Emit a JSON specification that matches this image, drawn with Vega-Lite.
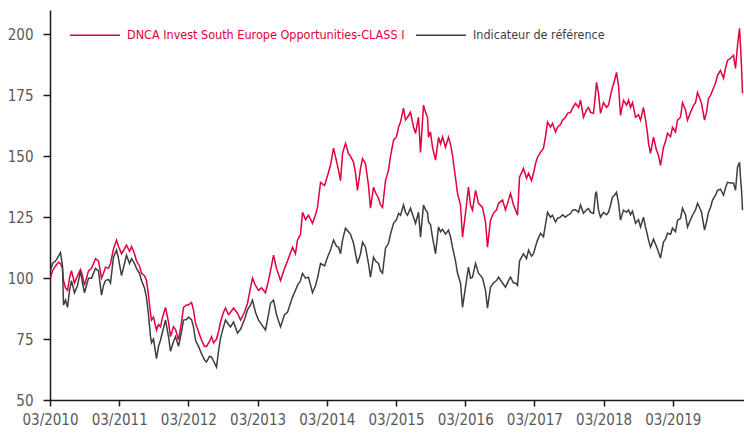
{
"$schema": "https://vega.github.io/schema/vega-lite/v6.json",
"width": 694, "height": 390,
"autosize": {"type": "none"},
"padding": {"left": 50, "top": 10, "right": 0, "bottom": 34},
"background": "white",
"config": {"view": {"stroke": null}, "font": "DejaVu Sans Condensed, sans-serif",
 "axis": {"grid": false, "title": null, "domainColor": "#1a1a1a", "domainWidth": 1.5, "tickColor": "#1a1a1a", "tickWidth": 1.5, "tickSize": 7, "labelColor": "#58595b", "labelFontSize": 15, "labelFont": "DejaVu Sans Condensed, sans-serif"}},
"data": {"values": [
{"t":2010.174,"fund":100,"ref":103},{"t":2010.203,"fund":103,"ref":106},{"t":2010.246,"fund":105,"ref":107},{"t":2010.290,"fund":106.5,"ref":109},{"t":2010.318,"fund":106,"ref":110.5},{"t":2010.347,"fund":104,"ref":105},{"t":2010.362,"fund":99,"ref":89},{"t":2010.391,"fund":96,"ref":91},{"t":2010.420,"fund":95,"ref":88},{"t":2010.449,"fund":100,"ref":95},{"t":2010.477,"fund":103,"ref":99},{"t":2010.521,"fund":98,"ref":94},{"t":2010.564,"fund":101,"ref":97},{"t":2010.607,"fund":103.5,"ref":103},{"t":2010.636,"fund":101,"ref":98},{"t":2010.665,"fund":97,"ref":94},{"t":2010.694,"fund":100,"ref":97},{"t":2010.723,"fund":103,"ref":100},{"t":2010.766,"fund":104,"ref":100},{"t":2010.824,"fund":108,"ref":104},{"t":2010.868,"fund":107,"ref":103},{"t":2010.911,"fund":100,"ref":93},{"t":2010.940,"fund":102,"ref":97},{"t":2010.969,"fund":104.5,"ref":99},{"t":2011.012,"fund":104,"ref":99.5},{"t":2011.041,"fund":106,"ref":98},{"t":2011.084,"fund":112,"ref":108.6},{"t":2011.128,"fund":115.6,"ref":111.5},{"t":2011.157,"fund":113,"ref":108},{"t":2011.200,"fund":110,"ref":101},{"t":2011.243,"fund":112,"ref":106},{"t":2011.272,"fund":113.5,"ref":109.4},{"t":2011.316,"fund":111,"ref":106},{"t":2011.345,"fund":113,"ref":108},{"t":2011.388,"fund":110,"ref":106},{"t":2011.417,"fund":107,"ref":104},{"t":2011.460,"fund":105,"ref":102},{"t":2011.489,"fund":102,"ref":99},{"t":2011.532,"fund":101,"ref":96},{"t":2011.561,"fund":99,"ref":92},{"t":2011.590,"fund":93,"ref":85},{"t":2011.619,"fund":85.6,"ref":76},{"t":2011.634,"fund":82.8,"ref":73.5},{"t":2011.662,"fund":84,"ref":75},{"t":2011.706,"fund":78.6,"ref":67},{"t":2011.735,"fund":81,"ref":72},{"t":2011.764,"fund":80,"ref":74.6},{"t":2011.793,"fund":84,"ref":78},{"t":2011.836,"fund":88,"ref":82.8},{"t":2011.879,"fund":82,"ref":76},{"t":2011.908,"fund":76,"ref":70},{"t":2011.951,"fund":80,"ref":74},{"t":2011.980,"fund":79,"ref":76},{"t":2012.024,"fund":74.6,"ref":72},{"t":2012.067,"fund":82,"ref":78},{"t":2012.096,"fund":88,"ref":82.8},{"t":2012.139,"fund":89,"ref":83},{"t":2012.168,"fund":89,"ref":84},{"t":2012.212,"fund":90,"ref":83},{"t":2012.240,"fund":87,"ref":80},{"t":2012.269,"fund":81.6,"ref":74.6},{"t":2012.313,"fund":78,"ref":72},{"t":2012.356,"fund":74.6,"ref":69},{"t":2012.399,"fund":72,"ref":66.5},{"t":2012.428,"fund":72,"ref":65.6},{"t":2012.472,"fund":74,"ref":68},{"t":2012.501,"fund":76,"ref":67.6},{"t":2012.530,"fund":73.4,"ref":66},{"t":2012.573,"fund":75,"ref":63.5},{"t":2012.602,"fund":78,"ref":70},{"t":2012.631,"fund":82,"ref":75.4},{"t":2012.674,"fund":86,"ref":80},{"t":2012.703,"fund":87.7,"ref":82.8},{"t":2012.746,"fund":85,"ref":81},{"t":2012.775,"fund":86,"ref":80},{"t":2012.819,"fund":87.7,"ref":82},{"t":2012.876,"fund":85.6,"ref":77.5},{"t":2012.920,"fund":82.8,"ref":79},{"t":2012.977,"fund":86,"ref":83},{"t":2013.021,"fund":89.7,"ref":87},{"t":2013.064,"fund":96,"ref":89},{"t":2013.093,"fund":100,"ref":91},{"t":2013.136,"fund":97,"ref":86},{"t":2013.180,"fund":95,"ref":82.8},{"t":2013.223,"fund":96,"ref":81},{"t":2013.281,"fund":94,"ref":78.7},{"t":2013.324,"fund":99,"ref":85},{"t":2013.353,"fund":103,"ref":89.7},{"t":2013.397,"fund":109.4,"ref":91},{"t":2013.440,"fund":104,"ref":85},{"t":2013.498,"fund":99,"ref":80},{"t":2013.556,"fund":104,"ref":85},{"t":2013.599,"fund":107,"ref":86},{"t":2013.671,"fund":112.7,"ref":92.2},{"t":2013.714,"fund":110,"ref":95},{"t":2013.743,"fund":115.6,"ref":97},{"t":2013.787,"fund":118,"ref":99},{"t":2013.816,"fund":127,"ref":102},{"t":2013.859,"fund":124,"ref":100},{"t":2013.902,"fund":125.8,"ref":100.4},{"t":2013.960,"fund":122.5,"ref":94},{"t":2014.004,"fund":126,"ref":97},{"t":2014.032,"fund":129,"ref":100},{"t":2014.076,"fund":139.3,"ref":106},{"t":2014.134,"fund":138,"ref":105},{"t":2014.177,"fund":142,"ref":108.6},{"t":2014.220,"fund":146.3,"ref":111.5},{"t":2014.264,"fund":153.3,"ref":115.6},{"t":2014.307,"fund":148,"ref":113},{"t":2014.336,"fund":144.3,"ref":112.7},{"t":2014.365,"fund":140,"ref":110},{"t":2014.394,"fund":151.2,"ref":115.6},{"t":2014.437,"fund":155.3,"ref":120.5},{"t":2014.480,"fund":151,"ref":119},{"t":2014.509,"fund":150,"ref":118},{"t":2014.553,"fund":147.5,"ref":114.3},{"t":2014.582,"fund":143,"ref":110},{"t":2014.610,"fund":136,"ref":106},{"t":2014.654,"fund":145,"ref":110},{"t":2014.683,"fund":149,"ref":114.8},{"t":2014.726,"fund":147,"ref":112.7},{"t":2014.769,"fund":138,"ref":106},{"t":2014.798,"fund":128.7,"ref":100.4},{"t":2014.842,"fund":137.3,"ref":108.6},{"t":2014.871,"fund":135,"ref":107},{"t":2014.914,"fund":132.8,"ref":106},{"t":2014.943,"fund":130,"ref":103},{"t":2014.972,"fund":129,"ref":102},{"t":2015.015,"fund":140,"ref":112.3},{"t":2015.058,"fund":144.3,"ref":114.3},{"t":2015.087,"fund":150,"ref":118},{"t":2015.131,"fund":156.6,"ref":122.5},{"t":2015.174,"fund":158,"ref":124},{"t":2015.203,"fund":161.9,"ref":126.6},{"t":2015.232,"fund":164,"ref":125.8},{"t":2015.275,"fund":169.7,"ref":130},{"t":2015.304,"fund":165,"ref":127},{"t":2015.333,"fund":166,"ref":125.8},{"t":2015.376,"fund":168,"ref":128.7},{"t":2015.420,"fund":162,"ref":125},{"t":2015.449,"fund":159.4,"ref":122.5},{"t":2015.492,"fund":166,"ref":127},{"t":2015.521,"fund":151.6,"ref":116.8},{"t":2015.564,"fund":170.9,"ref":130},{"t":2015.593,"fund":168,"ref":128},{"t":2015.622,"fund":166,"ref":127},{"t":2015.636,"fund":157.8,"ref":123},{"t":2015.665,"fund":160,"ref":122},{"t":2015.694,"fund":153.7,"ref":116.8},{"t":2015.738,"fund":148.4,"ref":110},{"t":2015.781,"fund":157.8,"ref":121},{"t":2015.810,"fund":155,"ref":119},{"t":2015.839,"fund":158,"ref":120},{"t":2015.882,"fund":153.7,"ref":118},{"t":2015.925,"fund":157.8,"ref":119.7},{"t":2015.954,"fund":155,"ref":117},{"t":2015.983,"fund":150.4,"ref":112.7},{"t":2016.027,"fund":141,"ref":107},{"t":2016.056,"fund":134.8,"ref":102},{"t":2016.099,"fund":130,"ref":98},{"t":2016.128,"fund":116.8,"ref":88},{"t":2016.171,"fund":126.6,"ref":96.3},{"t":2016.214,"fund":137.3,"ref":104.5},{"t":2016.243,"fund":130,"ref":100},{"t":2016.272,"fund":127.9,"ref":100.4},{"t":2016.316,"fund":136,"ref":106},{"t":2016.359,"fund":130.7,"ref":102},{"t":2016.417,"fund":129,"ref":100},{"t":2016.460,"fund":123,"ref":95},{"t":2016.489,"fund":112.7,"ref":87.7},{"t":2016.532,"fund":123.8,"ref":96.3},{"t":2016.576,"fund":126.6,"ref":98},{"t":2016.619,"fund":128,"ref":99},{"t":2016.648,"fund":130.7,"ref":100.4},{"t":2016.706,"fund":132,"ref":98},{"t":2016.749,"fund":128,"ref":96.3},{"t":2016.793,"fund":132,"ref":99},{"t":2016.821,"fund":134.8,"ref":100.4},{"t":2016.865,"fund":130,"ref":98},{"t":2016.894,"fund":128,"ref":98},{"t":2016.923,"fund":125.8,"ref":97},{"t":2016.952,"fund":141.4,"ref":107},{"t":2017.009,"fund":145,"ref":110},{"t":2017.053,"fund":141,"ref":108},{"t":2017.082,"fund":143,"ref":111.5},{"t":2017.125,"fund":140,"ref":109},{"t":2017.154,"fund":143,"ref":110},{"t":2017.183,"fund":147,"ref":113},{"t":2017.212,"fund":149.6,"ref":115.6},{"t":2017.255,"fund":151.6,"ref":118.4},{"t":2017.298,"fund":153.3,"ref":117},{"t":2017.327,"fund":158,"ref":122},{"t":2017.356,"fund":164,"ref":127},{"t":2017.400,"fund":162,"ref":125},{"t":2017.428,"fund":163.5,"ref":125.8},{"t":2017.472,"fund":160,"ref":123},{"t":2017.501,"fund":161.9,"ref":124.6},{"t":2017.544,"fund":163,"ref":125},{"t":2017.573,"fund":164.8,"ref":126},{"t":2017.616,"fund":166,"ref":125},{"t":2017.645,"fund":167.6,"ref":125.8},{"t":2017.689,"fund":168,"ref":126.5},{"t":2017.717,"fund":169.7,"ref":127.9},{"t":2017.761,"fund":171.7,"ref":128},{"t":2017.804,"fund":170,"ref":127},{"t":2017.833,"fund":173,"ref":130},{"t":2017.876,"fund":166,"ref":126.6},{"t":2017.920,"fund":169,"ref":128},{"t":2017.949,"fund":170,"ref":128.5},{"t":2017.978,"fund":168,"ref":127},{"t":2018.021,"fund":167.6,"ref":126.5},{"t":2018.050,"fund":175.8,"ref":134.8},{"t":2018.064,"fund":180.3,"ref":135.2},{"t":2018.093,"fund":175.8,"ref":128},{"t":2018.122,"fund":167.6,"ref":125},{"t":2018.165,"fund":172,"ref":127},{"t":2018.209,"fund":170,"ref":126},{"t":2018.238,"fund":171,"ref":127},{"t":2018.267,"fund":175,"ref":130},{"t":2018.295,"fund":178.3,"ref":133.2},{"t":2018.324,"fund":181,"ref":134},{"t":2018.353,"fund":184.4,"ref":135.2},{"t":2018.382,"fund":179,"ref":131},{"t":2018.411,"fund":166.8,"ref":123.8},{"t":2018.454,"fund":173,"ref":127.9},{"t":2018.498,"fund":171,"ref":127},{"t":2018.527,"fund":173,"ref":128},{"t":2018.556,"fund":170,"ref":126},{"t":2018.584,"fund":172,"ref":127.5},{"t":2018.628,"fund":166,"ref":122.5},{"t":2018.671,"fund":167,"ref":124},{"t":2018.700,"fund":164.8,"ref":121},{"t":2018.743,"fund":170,"ref":125},{"t":2018.772,"fund":165,"ref":121},{"t":2018.801,"fund":159.4,"ref":117.6},{"t":2018.816,"fund":155.3,"ref":115.6},{"t":2018.845,"fund":151.2,"ref":112.7},{"t":2018.888,"fund":157.8,"ref":116},{"t":2018.931,"fund":152.5,"ref":113},{"t":2018.960,"fund":150.4,"ref":110.7},{"t":2018.989,"fund":146.3,"ref":108.2},{"t":2019.032,"fund":153.7,"ref":114.8},{"t":2019.061,"fund":156,"ref":116},{"t":2019.090,"fund":159.4,"ref":118.4},{"t":2019.134,"fund":158,"ref":118},{"t":2019.162,"fund":161.9,"ref":120.5},{"t":2019.206,"fund":160,"ref":119},{"t":2019.235,"fund":164.8,"ref":123.8},{"t":2019.278,"fund":166,"ref":124.5},{"t":2019.307,"fund":172,"ref":128.7},{"t":2019.350,"fund":169,"ref":126},{"t":2019.379,"fund":164.8,"ref":121},{"t":2019.423,"fund":168,"ref":124},{"t":2019.466,"fund":170.9,"ref":126.6},{"t":2019.495,"fund":172,"ref":128},{"t":2019.524,"fund":176.2,"ref":130.7},{"t":2019.553,"fund":174,"ref":129},{"t":2019.582,"fund":171.7,"ref":127},{"t":2019.625,"fund":164.8,"ref":119.7},{"t":2019.654,"fund":168,"ref":123},{"t":2019.683,"fund":173.8,"ref":127},{"t":2019.712,"fund":175,"ref":129},{"t":2019.741,"fund":177,"ref":132},{"t":2019.784,"fund":180,"ref":134},{"t":2019.813,"fund":183.2,"ref":136},{"t":2019.856,"fund":185.2,"ref":136.5},{"t":2019.900,"fund":182,"ref":134},{"t":2019.928,"fund":186,"ref":137},{"t":2019.957,"fund":189.3,"ref":139.3},{"t":2020.001,"fund":190.2,"ref":139},{"t":2020.044,"fund":191.4,"ref":139},{"t":2020.073,"fund":186,"ref":136},{"t":2020.102,"fund":195.5,"ref":145.5},{"t":2020.131,"fund":202.5,"ref":147.5},{"t":2020.145,"fund":195.5,"ref":141.4},{"t":2020.160,"fund":186.5,"ref":136},{"t":2020.174,"fund":175.8,"ref":127.9}
]},
"transform": [{"fold": ["fund", "ref"], "as": ["series", "value"]}],
"mark": {"type": "line", "strokeWidth": 1.5, "clip": true},
"encoding": {
 "x": {"field": "t", "type": "quantitative",
  "scale": {"domain": [2010.1667, 2020.1956], "nice": false, "zero": false},
  "axis": {"values": [2010.1667, 2011.1667, 2012.1667, 2013.1667, 2014.1667, 2015.1667, 2016.1667, 2017.1667, 2018.1667, 2019.1667], "labelExpr": "'03/' + floor(datum.value)", "tickSize": 6, "labelPadding": 6, "labelFlush": false, "labelOverlap": false}},
 "y": {"field": "value", "type": "quantitative",
  "scale": {"domain": [50, 210], "nice": false, "zero": false},
  "axis": {"values": [50, 75, 100, 125, 150, 175, 200], "labelPadding": 10}},
 "color": {"field": "series", "type": "nominal",
  "scale": {"domain": ["fund", "ref"], "range": ["#e2003c", "#3b3e45"]},
  "legend": {"orient": "none", "legendX": 19, "legendY": -1, "direction": "horizontal", "title": null, "padding": 0,
   "symbolType": "stroke", "symbolSize": 2500, "symbolStrokeWidth": 1.5, "labelFontSize": 12.5, "labelOffset": 6, "columnPadding": 8, "labelLimit": 400,
   "labelFont": "DejaVu Sans Condensed, sans-serif",
   "labelExpr": "datum.value == 'fund' ? 'DNCA Invest South Europe Opportunities-CLASS I' : 'Indicateur de référence'",
   "encode": {"labels": {"update": {"fill": {"scale": "color", "field": "value"}}}}}}
}
}
